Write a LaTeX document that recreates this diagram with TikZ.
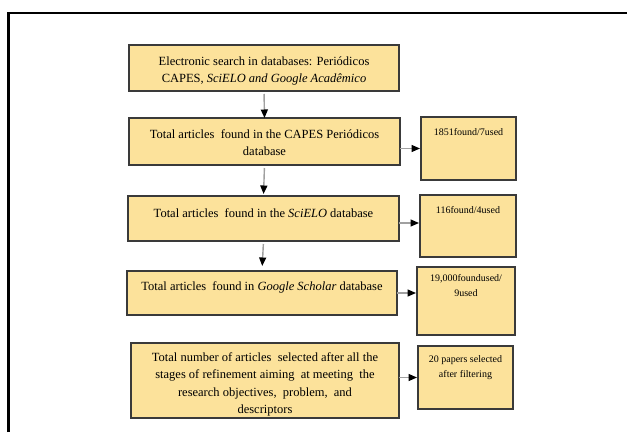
\documentclass[tikz,border=0pt]{standalone}
\usepackage{fontspec}
\setmainfont{Liberation Serif}
\usetikzlibrary{arrows.meta}
\definecolor{boxfill}{HTML}{FCE29B}
\definecolor{boxline}{HTML}{3A3A3A}
\definecolor{arrgray}{HTML}{A0A0A0}
\begin{document}
\begin{tikzpicture}[x=1pt,y=1pt,
  mbox/.style={draw=boxline, line width=1.3pt, fill=boxfill, inner sep=0pt, outer sep=0pt},
  mtxt/.style={font=\fontsize{12.5}{17.5}\selectfont, align=center, inner sep=0pt},
  stxt/.style={font=\fontsize{10}{15}\selectfont, align=center, inner sep=0pt, anchor=north},
  arr/.style={draw=arrgray, line width=1.4pt, -{Triangle[length=8.5pt,width=7pt,color=black,fill=black]}},
  frame/.style={line width=2.5pt, draw=black}]
\useasboundingbox (0,0) rectangle (627,432);
% frame
\coordinate (fbl) at (8.3,0);
\coordinate (ftl) at (8.3,419);
\coordinate (ftr) at (627,419);
\draw[frame] (fbl) -- (ftl) -- (ftr);
% main boxes
\node[mbox, minimum width=270pt, minimum height=46pt,
  label={[mtxt,yshift=-3pt]center:{Electronic search in databases: Periódicos\\CAPES, \textit{SciELO and Google Acadêmico}}}] (b1) at (264,364) {};
\node[mbox, minimum width=271pt, minimum height=47pt,
  label={[mtxt,yshift=-1pt]center:{Total articles~ found in the CAPES Periódicos\\database}}] (b2) at (264.5,290.5) {};
\node[mbox, minimum width=271pt, minimum height=45pt,
  label={[mtxt,yshift=5pt]center:{Total articles~ found in the \textit{SciELO} database}}] (b3) at (263.5,213.5) {};
\node[mbox, minimum width=270pt, minimum height=44pt,
  label={[mtxt,yshift=6pt]center:{Total articles~ found in \textit{Google Scholar} database}}] (b4) at (262,139) {};
\node[mbox, minimum width=268pt, minimum height=75pt,
  label={[mtxt,yshift=-4pt]center:{Total number of articles~ selected after all the\\stages of refinement aiming~ at meeting~ the\\research objectives,~ problem,~ and\\descriptors}}] (b5) at (265,51.5) {};
% side boxes
\node[mbox, minimum width=95pt, minimum height=63pt,
  label={[stxt,yshift=-11.5pt]north:{1851found/7used}}] (r1) at (468.5,283.5) {};
\node[mbox, minimum width=96pt, minimum height=62pt,
  label={[stxt,yshift=-11.5pt]north:{116found/4used}}] (r2) at (468,206) {};
\node[mbox, minimum width=98pt, minimum height=68pt,
  label={[stxt,yshift=-7.5pt]north:{19,000foundused/\\9used}}] (r3) at (466,131) {};
\node[mbox, minimum width=95pt, minimum height=63pt,
  label={[stxt,yshift=-9.5pt]north:{20 papers selected\\after filtering}}] (r4) at (465.5,54.5) {};
% vertical arrows
\draw[arr, shorten <=3pt] (b1.south) -- (b2.north);
\draw[arr, shorten <=3pt, shorten >=2pt] (b2.south) -- (b3.north);
\draw[arr, shorten <=3pt, shorten >=5pt] (b3.south) -- (b4.north);
% horizontal arrows
\draw[arr, shorten >=1pt] (b2.east |- r1.west) -- (r1.west);
\draw[arr, shorten >=1pt] ([yshift=-4.5pt]b3.east) -- ([yshift=-4.5pt]b3.east -| r2.west);
\draw[arr, shorten >=1pt] (b4.east) -- (b4.east -| r3.west);
\draw[arr, shorten >=1pt] (b5.east |- r4.west) -- (r4.west);
\end{tikzpicture}
\end{document}
